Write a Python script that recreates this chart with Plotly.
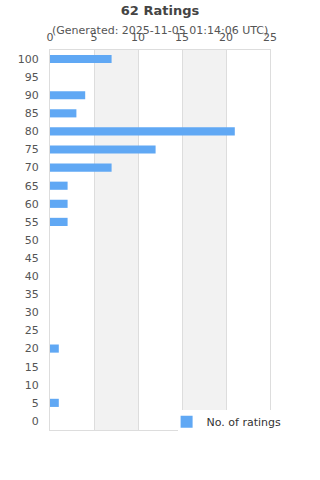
import plotly.graph_objects as go

ratings = [100, 95, 90, 85, 80, 75, 70, 65, 60, 55, 50, 45, 40, 35, 30, 25, 20, 15, 10, 5, 0]
counts = [7, 0, 4, 3, 21, 12, 7, 2, 2, 2, 0, 0, 0, 0, 0, 0, 1, 0, 0, 1, 0]
x_ticks = [0, 5, 10, 15, 20, 25]
bands = [(5, 10), (15, 20)]
title = "62 Ratings"
subtitle = "(Generated: 2025-11-05 01:14:06 UTC)"
series_name = "No. of ratings"

font = "DejaVu Sans, sans-serif"
fig = go.Figure()
fig.add_trace(go.Bar(
    x=counts, y=ratings, orientation="h", name=series_name,
    width=2.25, marker=dict(color="#60a8f4", line=dict(width=0)),
    showlegend=True,
))
for a, b in bands:
    fig.add_shape(type="rect", xref="x", yref="paper", x0=a, x1=b, y0=0, y1=1,
                  fillcolor="#f2f2f2", line=dict(width=0), layer="below")
# white legend backdrop covering the plot corner
fig.add_shape(type="rect", xref="paper", yref="paper", x0=128 / 220, x1=1.3,
              y0=-0.2, y1=20 / 380, fillcolor="white", line=dict(width=0), layer="above")

fig.update_layout(
    width=320, height=480,
    margin=dict(l=50, r=50, t=50, b=50),
    paper_bgcolor="white", plot_bgcolor="white",
    font=dict(family=font, color="#444", size=11),
    title=dict(text="<b>" + title + "</b>", x=0.5, xanchor="center", y=0.978, yanchor="middle",
               font=dict(size=13, color="#444", family=font)),
    annotations=[dict(text=subtitle, xref="paper", yref="paper", x=0.5, y=1 + 20 / 380,
                      xanchor="center", yanchor="middle", showarrow=False,
                      font=dict(size=11, color="#555", family=font))],
    xaxis=dict(side="top", range=[0, 25], tickvals=x_ticks, showgrid=True, gridcolor="#dddddd",
               zeroline=False, showline=True, linecolor="#dddddd", mirror=True,
               ticks="outside", ticklen=4, tickcolor="rgba(0,0,0,0)",
               tickfont=dict(size=11, color="#555"), fixedrange=True),
    yaxis=dict(range=[-2.5, 102.5], tickvals=ratings, showgrid=False, zeroline=False,
               showline=True, linecolor="#dddddd", mirror=True,
               ticks="outside", ticklen=8, tickcolor="rgba(0,0,0,0)",
               tickfont=dict(size=11, color="#555"), fixedrange=True),
    legend=dict(x=0.53, y=0.06, xanchor="left", yanchor="top", bgcolor="rgba(0,0,0,0)",
                font=dict(size=11, color="#333"), borderwidth=0),
    showlegend=True,
)
fig.write_html("out.html")
